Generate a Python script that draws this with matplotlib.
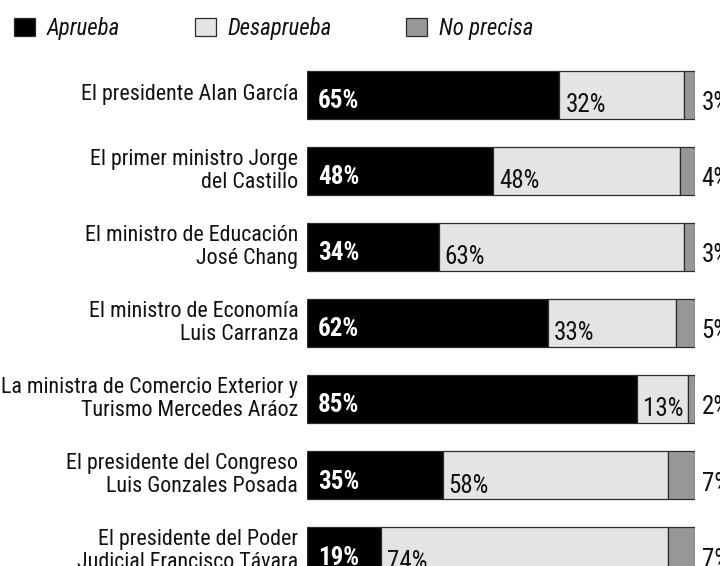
import matplotlib
matplotlib.use("Agg")
import matplotlib.pyplot as plt
from matplotlib.patches import Patch

plt.rcParams['font.family'] = ['Roboto Condensed', 'Archivo Narrow', 'DejaVu Sans']

categories = [
    "El presidente Alan García",
    "El primer ministro Jorge\ndel Castillo",
    "El ministro de Educación\nJosé Chang",
    "El ministro de Economía\nLuis Carranza",
    "La ministra de Comercio Exterior y\nTurismo Mercedes Aráoz",
    "El presidente del Congreso\nLuis Gonzales Posada",
    "El presidente del Poder\nJudicial Francisco Távara",
]
aprueba = [65, 48, 34, 62, 85, 35, 19]
desaprueba = [32, 48, 63, 33, 13, 58, 74]
no_precisa = [3, 4, 3, 5, 2, 7, 7]
series_names = ["Aprueba", "Desaprueba", "No precisa"]

W, H = 720, 566
fig = plt.figure(figsize=(W / 100, H / 100), dpi=100)

# layout in pixels
x0, x1 = 306.7, 695.3
c0, step = 94.7, 76.1
bar_h = 47.7 / step
y_top = -c0 / step
y_bot = (H - c0) / step
ax = fig.add_axes([x0 / W, 0, (x1 - x0) / W, 1])
ax.set_xlim(0, 100)
ax.set_ylim(y_bot, y_top)
ax.axis('off')

cols = ['#000000', '#e4e4e4', '#979797']
edge = '#2a2a2a'
ypos = list(range(len(categories)))
left = [0] * len(categories)
series = [aprueba, desaprueba, no_precisa]
for vals, col, name in zip(series, cols, series_names):
    ax.barh(ypos, vals, left=left, height=bar_h, color=col,
            edgecolor=edge, linewidth=0.9, label=name)
    left = [l + v for l, v in zip(left, vals)]

fs_lab = 15.8
fs_val = 18.0
PX = 0.72  # points per pixel
for i, cat in enumerate(categories):
    ax.annotate(cat, xy=(0, i), xytext=(-8.5 * PX, 0), textcoords='offset points',
                ha='right', va='center', fontsize=fs_lab, color='#111111',
                linespacing=1.12, annotation_clip=False)

for i in ypos:
    yb = i + bar_h / 2
    ax.annotate(f"{aprueba[i]}%", xy=(0, yb), xytext=(11 * PX, 10.5 * PX),
                textcoords='offset points', ha='left', va='baseline',
                fontsize=fs_val, color='white', fontweight='bold',
                annotation_clip=False)
    ax.annotate(f"{desaprueba[i]}%", xy=(aprueba[i], yb), xytext=(6 * PX, 6.5 * PX),
                textcoords='offset points', ha='left', va='baseline',
                fontsize=fs_val, color='#111111', annotation_clip=False)
    ax.annotate(f"{no_precisa[i]}%", xy=(100, yb), xytext=(6.4 * PX, 8.5 * PX),
                textcoords='offset points', ha='left', va='baseline',
                fontsize=fs_val, color='#111111', annotation_clip=False)

handles = [Patch(facecolor=c, edgecolor=edge, linewidth=0.9) for c in cols]
leg = fig.legend(handles, series_names, loc='upper left',
                 bbox_to_anchor=(14 / W, 1 - 17 / H), ncol=3, frameon=False,
                 prop={'size': 16.5, 'style': 'italic'},
                 handlelength=0.93, handleheight=0.85, handletextpad=0.5,
                 columnspacing=3.25, borderpad=0, borderaxespad=0)
for t in leg.get_texts():
    t.set_color('#111111')

fig.savefig('out.png', dpi=100)
